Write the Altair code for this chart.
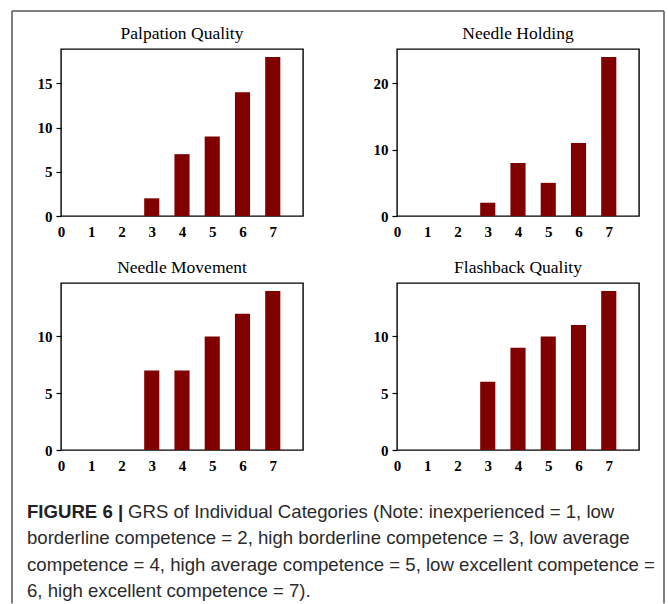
import altair as alt
import pandas as pd

# ---- data ----
grades = [1, 2, 3, 4, 5, 6, 7]
palpation = [0, 0, 2, 7, 9, 14, 18]
holding = [0, 0, 2, 8, 5, 11, 24]
movement = [0, 0, 7, 7, 10, 12, 14]
flashback = [0, 0, 6, 9, 10, 11, 14]
panel_titles = ["Palpation Quality", "Needle Holding", "Needle Movement", "Flashback Quality"]
x_ticks = [0, 1, 2, 3, 4, 5, 6, 7]
y_ticks = [[0, 5, 10, 15], [0, 10, 20], [0, 5, 10], [0, 5, 10]]
caption_bold = "FIGURE 6 |"
caption_lines = [
    "GRS of Individual Categories (Note: inexperienced = 1, low",
    "borderline competence = 2, high borderline competence = 3, low average",
    "competence = 4, high average competence = 5, low excellent competence =",
    "6, high excellent competence = 7).",
]

SERIF = "Liberation Serif"
SANS = "Liberation Sans"
BAR = "#800000"
PW, PH = 242, 167


def panel(title, values, yt):
    df = pd.DataFrame({"grade": grades, "count": values})
    ymax = max(values) * 1.05
    return (
        alt.Chart(
            df,
            title=alt.TitleParams(
                title, font=SERIF, fontSize=17.5, fontWeight="normal",
                color="black", anchor="middle", offset=7,
            ),
        )
        .mark_bar(color=BAR)
        .transform_calculate(x0="datum.grade - 0.25", x1="datum.grade + 0.25")
        .encode(
            x=alt.X(
                "x0:Q",
                scale=alt.Scale(domain=[0, 8], nice=False, zero=False),
                axis=alt.Axis(values=x_ticks, title=None, tickSize=0, labelPadding=8,
                              labelFlush=False, labelOverlap=False),
            ),
            x2="x1:Q",
            y=alt.Y(
                "count:Q",
                scale=alt.Scale(domain=[0, ymax], nice=False),
                axis=alt.Axis(values=yt, title=None, tickSize=5, labelPadding=4,
                              labelFlush=False, labelOverlap=False),
            ),
            y2=alt.datum(0),
        )
        .properties(width=PW, height=PH)
    )


p1 = panel(panel_titles[0], palpation, y_ticks[0])
p2 = panel(panel_titles[1], holding, y_ticks[1])
p3 = panel(panel_titles[2], movement, y_ticks[2])
p4 = panel(panel_titles[3], flashback, y_ticks[3])

one = pd.DataFrame({"k": [0]})

# caption text (positions relative to the caption view origin at (61, 517))
cap_x = -34
cap_y = [0.5, 27, 53.5, 80]
CAP_SIZE = 18.6
layers = [
    alt.Chart(one).mark_text(font=SANS, fontSize=CAP_SIZE, fontWeight="bold", align="left",
                             baseline="alphabetic", color="#222")
    .encode(text=alt.value(caption_bold), x=alt.value(cap_x), y=alt.value(cap_y[0]))
]
for i, line in enumerate(caption_lines):
    layers.append(
        alt.Chart(one).mark_text(font=SANS, fontSize=CAP_SIZE, fontWeight="normal", align="left",
                                 baseline="alphabetic", color="#2b2b2b")
        .encode(text=alt.value(line), x=alt.value(67 if i == 0 else cap_x), y=alt.value(cap_y[i]))
    )

# outer figure frame
frame_kw = dict(color="#555", strokeWidth=1.5)
layers.append(alt.Chart(one).mark_rule(**frame_kw).encode(
    x=alt.value(-49), y=alt.value(-506), y2=alt.value(86.5)))
layers.append(alt.Chart(one).mark_rule(**frame_kw).encode(
    x=alt.value(-49), x2=alt.value(603), y=alt.value(-506)))
layers.append(alt.Chart(one).mark_rule(**frame_kw).encode(
    x=alt.value(603), y=alt.value(-506), y2=alt.value(86.5)))

caption = alt.layer(*layers).properties(width=PW, height=60,
                                        view=alt.ViewBackground(strokeOpacity=0))

chart = (
    alt.concat(p1, p2, p3, p4, caption, columns=2,
               spacing={"row": 67, "column": 94}, bounds="flush")
    .properties(padding={"left": 11, "top": 10, "right": 0, "bottom": 0}, background="white")
    .configure_view(stroke="black", strokeWidth=1.4)
    .configure_axis(
        grid=False, domain=False,
        labelFont=SERIF, labelFontSize=15, labelFontWeight="bold", labelColor="black",
        tickColor="black", tickWidth=1.2,
    )
)

chart.save("out.html", embed_options={"renderer": "svg", "actions": False})
